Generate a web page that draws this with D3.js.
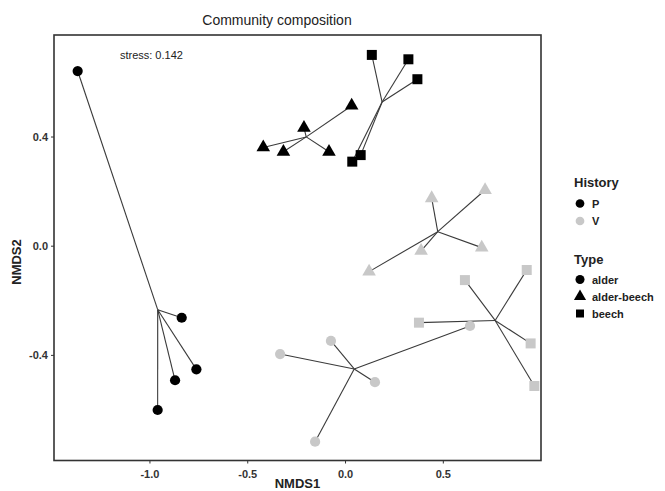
<!DOCTYPE html>
<html>
<head>
<meta charset="utf-8">
<script src="https://cdn.jsdelivr.net/npm/d3@7"></script>
<style>
body { margin: 0; background: #fff; }
text { font-family: "Liberation Sans", Arial, sans-serif; }
</style>
</head>
<body>
<div id="chart"></div>
<script>

// site scores, 5 sites per group
var site_history = ["P","P","P","P","P", "P","P","P","P","P", "P","P","P","P","P",
                    "V","V","V","V","V", "V","V","V","V","V", "V","V","V","V","V"];
var site_type = ["alder","alder","alder","alder","alder",
                 "alder-beech","alder-beech","alder-beech","alder-beech","alder-beech",
                 "beech","beech","beech","beech","beech",
                 "alder","alder","alder","alder","alder",
                 "alder-beech","alder-beech","alder-beech","alder-beech","alder-beech",
                 "beech","beech","beech","beech","beech"];
var nmds1 = [-1.367, -0.835, -0.760, -0.869, -0.958,
             -0.418, -0.315, -0.210, -0.082, 0.034,
             0.137, 0.324, 0.370, 0.080, 0.037,
             0.639, -0.332, -0.072, 0.153, -0.153,
             0.443, 0.716, 0.699, 0.389, 0.123,
             0.613, 0.929, 0.378, 0.949, 0.968];
var nmds2 = [0.640, -0.264, -0.453, -0.493, -0.602,
             0.360, 0.344, 0.432, 0.344, 0.513,
             0.699, 0.683, 0.610, 0.332, 0.308,
             -0.294, -0.397, -0.349, -0.500, -0.718,
             0.174, 0.204, -0.007, -0.019, -0.095,
             -0.126, -0.089, -0.282, -0.358, -0.514];

var history_levels = ["P", "V"];
var type_levels = ["alder", "alder-beech", "beech"];
var x_ticks = [-1.0, -0.5, 0.0, 0.5];
var y_ticks = [-0.4, 0.0, 0.4];
var stress_label = "stress: 0.142";

var W = 665, H = 491;
var margin = {top: 35, right: 124, bottom: 30.5, left: 54};

function tick_label(d){
	// plain hyphen, like the original plot
	return d.toFixed(1);
}

function render_ordination(){
	var svg = d3.select("#chart").append("svg")
		.attr("width", W).attr("height", H);

	var x = d3.scaleLinear().domain([-1.488, 1.002]).range([margin.left, W - margin.right]);
	var y = d3.scaleLinear().domain([-0.787, 0.772]).range([H - margin.bottom, margin.top]);

	var colour = d3.scaleOrdinal().domain(history_levels).range(["#000000", "#c8c8c8"]);
	var shape = d3.scaleOrdinal().domain(type_levels)
		.range([d3.symbolCircle, d3.symbolTriangle, d3.symbolSquare]);
	var shape_size = d3.scaleOrdinal().domain(type_levels).range([82, 80, 100]);

	var sites = nmds1.map(function(v, i){
		return {x: v, y: nmds2[i], history: site_history[i], type: site_type[i]};
	});

	// group centroids for the spider lines
	var groups = d3.groups(sites, function(d){ return d.history + "|" + d.type; });
	var centroid = {};
	groups.forEach(function(g){
		centroid[g[0]] = {x: d3.mean(g[1], function(d){ return d.x; }),
		                  y: d3.mean(g[1], function(d){ return d.y; })};
	});

	// title
	svg.append("text").attr("x", 277).attr("y", 25)
		.attr("text-anchor", "middle").attr("font-size", 14).attr("fill", "#222")
		.text("Community composition");

	// panel border
	svg.append("rect")
		.attr("x", margin.left).attr("y", margin.top)
		.attr("width", W - margin.left - margin.right)
		.attr("height", H - margin.top - margin.bottom)
		.attr("fill", "none").attr("stroke", "#333").attr("stroke-width", 1.6);

	svg.append("text").attr("x", x(-0.99)).attr("y", y(0.70) + 4)
		.attr("text-anchor", "middle").attr("font-size", 11).attr("fill", "#222")
		.text(stress_label);

	// spider lines
	svg.append("g").selectAll("line")
		.data(sites).enter().append("line")
		.attr("x1", function(d){ return x(centroid[d.history + "|" + d.type].x); })
		.attr("y1", function(d){ return y(centroid[d.history + "|" + d.type].y); })
		.attr("x2", function(d){ return x(d.x); })
		.attr("y2", function(d){ return y(d.y); })
		.attr("stroke", "#3a3a3a").attr("stroke-width", 1.1);

	// points
	svg.append("g").selectAll("path")
		.data(sites).enter().append("path")
		.attr("transform", function(d){ return "translate(" + x(d.x) + "," + y(d.y) + ")"; })
		.attr("d", function(d){ return d3.symbol().type(shape(d.type)).size(shape_size(d.type))(); })
		.attr("fill", function(d){ return colour(d.history); });

	// axes
	var xa = svg.append("g")
		.attr("transform", "translate(0," + (H - margin.bottom) + ")")
		.call(d3.axisBottom(x).tickValues(x_ticks).tickFormat(tick_label).tickSizeOuter(0).tickSize(3));
	var ya = svg.append("g")
		.attr("transform", "translate(" + margin.left + ",0)")
		.call(d3.axisLeft(y).tickValues(y_ticks).tickFormat(tick_label).tickSizeOuter(0).tickSize(3));
	[xa, ya].forEach(function(a){
		a.select(".domain").remove();
		a.selectAll(".tick line").attr("stroke", "#333");
		a.selectAll(".tick text").attr("fill", "#333").attr("font-size", 11)
			.attr("font-weight", "bold").style("font-family", "Liberation Sans, Arial, sans-serif");
	});
	xa.selectAll(".tick text").attr("dy", "1.05em");

	svg.append("text").attr("x", 297.5).attr("y", 488)
		.attr("text-anchor", "middle").attr("font-size", 13).attr("font-weight", "bold")
		.attr("fill", "#222").text("NMDS1");
	svg.append("text").attr("transform", "translate(21,262) rotate(-90)")
		.attr("text-anchor", "middle").attr("font-size", 13).attr("font-weight", "bold")
		.attr("fill", "#222").text("NMDS2");

	// legends
	var leg = svg.append("g");
	leg.append("text").attr("x", 574).attr("y", 187).attr("font-size", 13)
		.attr("font-weight", "bold").attr("fill", "#222").text("History");
	history_levels.forEach(function(h, i){
		var cy = 203.5 + i * 17.5;
		leg.append("path").attr("transform", "translate(580," + cy + ")")
			.attr("d", d3.symbol().type(d3.symbolCircle).size(60)())
			.attr("fill", colour(h));
		leg.append("text").attr("x", 592).attr("y", cy + 4).attr("font-size", 11)
			.attr("font-weight", "bold").attr("fill", "#222").text(h);
	});
	leg.append("text").attr("x", 574).attr("y", 264).attr("font-size", 13)
		.attr("font-weight", "bold").attr("fill", "#222").text("Type");
	type_levels.forEach(function(t, i){
		var cy = 279.5 + i * 17;
		leg.append("path").attr("transform", "translate(580," + cy + ")")
			.attr("d", d3.symbol().type(shape(t)).size(64)())
			.attr("fill", "#000");
		leg.append("text").attr("x", 592).attr("y", cy + 4).attr("font-size", 11)
			.attr("font-weight", "bold").attr("fill", "#222").text(t);
	});
}

window.onload = render_ordination;
</script>
</body>
</html>
